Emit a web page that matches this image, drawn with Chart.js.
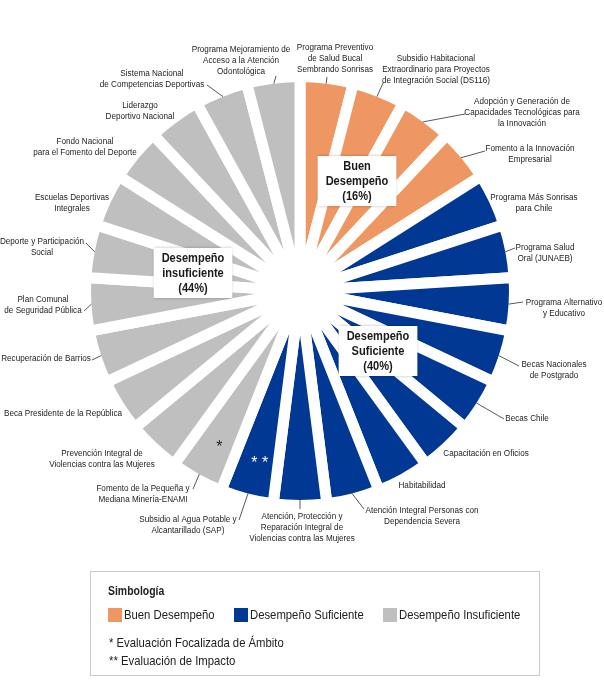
<!DOCTYPE html>
<html>
<head>
<meta charset="utf-8">
<script src="https://cdn.jsdelivr.net/npm/chart.js@4"></script>
<style>
  body { margin: 0; background: #fff; }
  #wrap { position: relative; width: 604px; height: 692px; }
  .legend {
    position: absolute; left: 90px; top: 571px; width: 450px; height: 105px;
    border: 1px solid #c9c9c9; box-sizing: border-box;
    font-family: "Liberation Sans", sans-serif; color: #222;
  }
  .legend span { display: inline-block; transform: scaleX(0.87); transform-origin: left center; white-space: nowrap; }
  .legend .title { position: absolute; left: 17px; top: 12px; font-size: 12px; font-weight: bold; }
  .legend .item { position: absolute; top: 36px; font-size: 13px; line-height: 14px; white-space: nowrap; }
  .legend .item i { display: inline-block; width: 14px; height: 14px; vertical-align: top; margin-right: 2px; }
  .legend .note { position: absolute; left: 18px; font-size: 13px; white-space: pre; }
</style>
</head>
<body>
<div id="wrap">
  <canvas id="pie" width="604" height="692"></canvas>
  <div class="legend" id="legend"></div>
</div>
<script>
// programas, en sentido horario desde las 12
const programs = [
  'Programa Preventivo\nde Salud Bucal\nSembrando Sonrisas',
  'Subsidio Habitacional\nExtraordinario para Proyectos\nde Integración Social (DS116)',
  'Adopción y Generación de\nCapacidades Tecnológicas para\nla Innovación',
  'Fomento a la Innovación\nEmpresarial',
  'Programa Más Sonrisas\npara Chile',
  'Programa Salud\nOral (JUNAEB)',
  'Programa Alternativo\ny Educativo',
  'Becas Nacionales\nde Postgrado',
  'Becas Chile',
  'Capacitación en Oficios',
  'Habitabilidad',
  'Atención Integral Personas con\nDependencia Severa',
  'Atención, Protección y\nReparación Integral de\nViolencias contra las Mujeres',
  'Subsidio al Agua Potable y\nAlcantarillado (SAP)',
  'Fomento de la Pequeña y\nMediana Minería-ENAMI',
  'Prevención Integral de\nViolencias contra las Mujeres',
  'Beca Presidente de la República',
  'Recuperación de Barrios',
  'Plan Comunal\nde Seguridad Pública',
  'Deporte y Participación\nSocial',
  'Escuelas Deportivas\nIntegrales',
  'Fondo Nacional\npara el Fomento del Deporte',
  'Liderazgo\nDeportivo Nacional',
  'Sistema Nacional\nde Competencias Deportivas',
  'Programa Mejoramiento de\nAcceso a la Atención\nOdontológica'
];
// cada programa pesa lo mismo
const weights = [1, 1, 1, 1, 1, 1, 1, 1, 1, 1, 1, 1, 1, 1, 1, 1, 1, 1, 1, 1, 1, 1, 1, 1, 1];
// 0 = buen, 1 = suficiente, 2 = insuficiente
const performance = [0, 0, 0, 0, 1, 1, 1, 1, 1, 1, 1, 1, 1, 1, 2, 2, 2, 2, 2, 2, 2, 2, 2, 2, 2];
const evaluations = ['', '', '', '', '', '', '', '', '', '', '', '', '', '**', '*', '', '', '', '', '', '', '', '', '', ''];

const categories = ['Buen Desempeño', 'Desempeño Suficiente', 'Desempeño Insuficiente'];
const boxTitles = ['Buen\nDesempeño', 'Desempeño\nSuficiente', 'Desempeño\ninsuficiente'];
const categoryColors = ['#EF9763', '#003893', '#BFBFBF'];
const notes = ['*  Evaluación Focalizada de Ámbito', '** Evaluación de Impacto'];

// layout: label offsets from pie centre (x = text centre, y = first line)
const labelAt = [
  [35, -244], [136, -233], [222, -190], [230, -143], [234, -94], [245, -44], [264, 11],
  [254, 73], [227, 127], [186, 162], [122, 194], [122, 219], [2, 225], [-112, 228],
  [-157, 197], [-198, 162], [-237, 122], [-254, 67], [-257, 8], [-258, -50], [-228, -94],
  [-215, -150], [-160, -186], [-148, -218], [-59, -242]
];
const leadTo = [
  [27, -214], [83, -208], [165, -177], [185, -140], null, [215, -43], [223, 11],
  [219, 75], [204, 128], null, null, [64, 218], [0, 218], [-61, 229],
  [-107, 198], null, null, [-208, 69], [-216, 20], [-214, -48], null,
  null, null, [-93, -206], [-24, -215]
];
const boxAt = [[57, -110], [78, 60], [-107, -18]];

const gap = 11;
const squeeze = 0.84;
const labelFont = '9.7px "Liberation Sans", sans-serif';
const boxFont = 'bold 13.5px "Liberation Sans", sans-serif';

const total = weights.reduce((a, b) => a + b, 0);
const shares = categories.map((c, k) =>
  Math.round(weights.filter((w, i) => performance[i] === k).reduce((a, b) => a + b, 0) / total * 100));

function narrowText(ctx, t, x, y, sx) {
  ctx.save();
  ctx.translate(x, y);
  ctx.scale(sx, 1);
  ctx.fillText(t, 0, 0);
  ctx.restore();
}

const programLabels = {
  id: 'programLabels',
  afterDraw(chart) {
    const ctx = chart.ctx;
    const arcs = chart.getDatasetMeta(0).data;
    ctx.save();
    arcs.forEach((arc, i) => {
      const p = arc.getProps(['x', 'y', 'startAngle', 'endAngle', 'outerRadius'], true);
      const mid = (p.startAngle + p.endAngle) / 2;
      const edge = p.outerRadius - gap / 2;
      if (leadTo[i]) {
        ctx.strokeStyle = '#595959';
        ctx.lineWidth = 1;
        ctx.beginPath();
        ctx.moveTo(p.x + Math.cos(mid) * edge, p.y + Math.sin(mid) * edge);
        ctx.lineTo(p.x + leadTo[i][0], p.y + leadTo[i][1]);
        ctx.stroke();
      }
      ctx.font = labelFont;
      ctx.fillStyle = '#222';
      ctx.textAlign = 'center';
      ctx.textBaseline = 'middle';
      programs[i].split('\n').forEach((t, k) => {
        narrowText(ctx, t, p.x + labelAt[i][0], p.y + labelAt[i][1] + k * 11, squeeze);
      });
      if (evaluations[i]) {
        const r = p.outerRadius * 0.81;
        ctx.font = '16px "Liberation Sans", sans-serif';
        ctx.fillStyle = performance[i] === 1 ? '#fff' : '#222';
        ctx.fillText(evaluations[i].split('').join(' '), p.x + Math.cos(mid) * r + 3, p.y + Math.sin(mid) * r + 4);
      }
    });

    const cx = arcs[0].x, cy = arcs[0].y;
    ctx.font = boxFont;
    categories.forEach((c, k) => {
      const lines = (boxTitles[k] + '\n(' + shares[k] + '%)').split('\n');
      const w = Math.max(...lines.map(t => ctx.measureText(t).width)) * 0.82 + 16;
      const h = lines.length * 15 + 5;
      const bx = cx + boxAt[k][0], by = cy + boxAt[k][1];
      ctx.save();
      ctx.shadowColor = 'rgba(0,0,0,0.3)';
      ctx.shadowBlur = 3;
      ctx.fillStyle = '#fff';
      ctx.fillRect(bx - w / 2, by - h / 2, w, h);
      ctx.restore();
      ctx.fillStyle = '#1a1a1a';
      lines.forEach((t, j) => {
        narrowText(ctx, t, bx, by - h / 2 + 10 + j * 15, 0.82);
      });
    });
    ctx.restore();
  }
};

new Chart(document.getElementById('pie'), {
  type: 'pie',
  data: {
    labels: programs.map(t => t.replace(/\n/g, ' ')),
    datasets: [{
      data: weights,
      backgroundColor: performance.map(k => categoryColors[k]),
      borderColor: '#fff',
      borderWidth: gap,
      hoverBorderWidth: gap,
      hoverOffset: 0
    }]
  },
  options: {
    responsive: false,
    animation: false,
    events: [],
    layout: { padding: { left: 80, right: 84, top: 71, bottom: 181 } },
    plugins: {
      legend: { display: false },
      tooltip: { enabled: false }
    }
  },
  plugins: [programLabels]
});

// leyenda
const legend = document.getElementById('legend');
legend.innerHTML = '<div class="title"><span>Simbología</span></div>' +
  categories.map((c, k) =>
    '<div class="item" style="left:' + [17, 143, 292][k] + 'px"><i style="background:' + categoryColors[k] + '"></i><span>' + c + '</span></div>'
  ).join('') +
  notes.map((n, k) => '<div class="note" style="top:' + (63 + k * 18) + 'px"><span>' + n + '</span></div>').join('');
</script>
</body>
</html>
